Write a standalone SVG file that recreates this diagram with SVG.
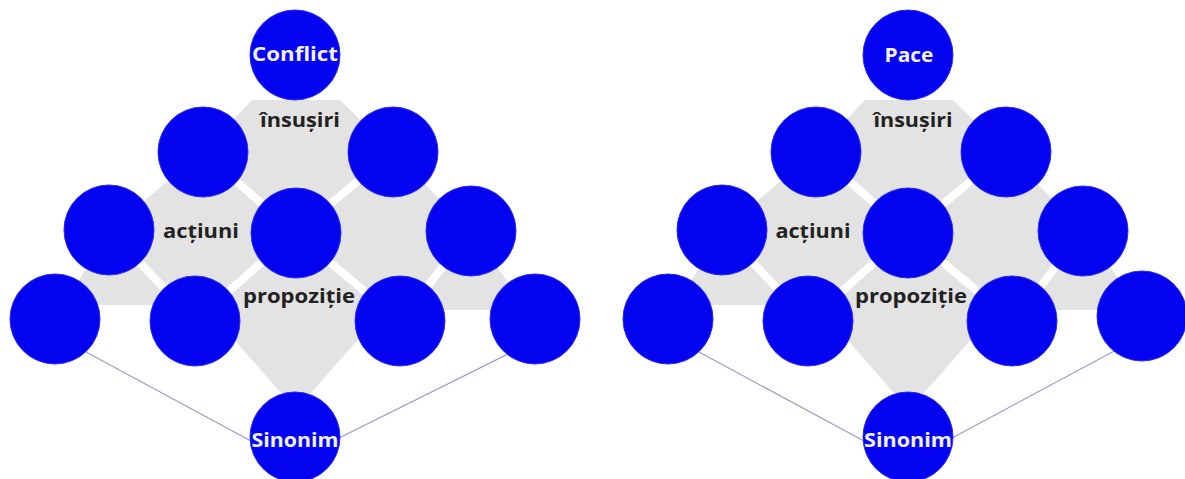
<svg xmlns="http://www.w3.org/2000/svg" width="1185" height="479" viewBox="0 0 1185 479">
<defs>
<style>
.tile{fill:#e3e3e3;stroke:none}
.gap{stroke:#ffffff;stroke-width:8;stroke-linecap:butt}
.node{fill:#0303ef;stroke:#2a2af5;stroke-width:1}
.conn{stroke:#9c9cc6;stroke-width:1.2;fill:none}
.in{font-family:"Open Sans","DejaVu Sans",sans-serif;font-weight:700;font-size:19px;fill:#f2f2ff;text-anchor:middle}
.lbl{font-family:"Open Sans","DejaVu Sans",sans-serif;font-weight:700;font-size:19px;fill:#222222;text-anchor:middle}
</style>
<g id="bgShape">
<polygon class="tile" points="252,100 340,100 393,152 295,233 203,152"/>
<polygon class="tile" points="203,152 109,230 195,321 295,233"/>
<polygon class="tile" points="393,152 295,233 400,321 471,231"/>
<polygon class="tile" points="295,233 195,321 218,321 281,393 311,393 374,321 400,321"/>
<polygon class="tile" points="109,230 64,305 180,305"/>
<polygon class="tile" points="471,231 409,310 528,310"/>
<line class="gap" x1="203" y1="152" x2="295" y2="233"/>
<line class="gap" x1="393" y1="152" x2="295" y2="233"/>
<line class="gap" x1="109" y1="230" x2="195" y2="321"/>
<line class="gap" x1="295" y1="233" x2="195" y2="321"/>
<line class="gap" x1="295" y1="233" x2="400" y2="321"/>
<line class="gap" x1="471" y1="231" x2="400" y2="321"/>
</g>
</defs>
<rect x="0" y="0" width="1185" height="479" fill="#ffffff"/>
<g id="background-left"><use href="#bgShape"/></g>
<g id="background-right"><use href="#bgShape" transform="translate(613,0)"/></g>
<g id="connectors">
<line class="conn" x1="86" y1="352" x2="251" y2="441"/>
<line class="conn" x1="512" y1="352" x2="339" y2="438"/>
<line class="conn" x1="699" y1="352" x2="864" y2="441"/>
<line class="conn" x1="1118" y1="349" x2="952" y2="438"/>
</g>
<g id="left-conflict"><circle class="node" cx="295" cy="55" r="45"/><text class="in" x="295" y="61" textLength="86" lengthAdjust="spacingAndGlyphs">Conflict</text></g>
<g id="left-r2a"><circle class="node" cx="203" cy="152" r="45"/></g>
<g id="left-r2b"><circle class="node" cx="393" cy="152" r="45"/></g>
<g id="left-r3a"><circle class="node" cx="109" cy="230" r="45"/></g>
<g id="left-r3b"><circle class="node" cx="296" cy="233" r="45"/></g>
<g id="left-r3c"><circle class="node" cx="471" cy="231" r="45"/></g>
<g id="left-r4a"><circle class="node" cx="55" cy="319" r="45"/></g>
<g id="left-r4b"><circle class="node" cx="195" cy="321" r="45"/></g>
<g id="left-r4c"><circle class="node" cx="400" cy="321" r="45"/></g>
<g id="left-r4d"><circle class="node" cx="535" cy="319" r="45"/></g>
<g id="left-sinonim"><circle class="node" cx="295" cy="437" r="45"/><text class="in" x="295" y="447" textLength="87" lengthAdjust="spacingAndGlyphs">Sinonim</text></g>
<g id="left-labels">
<text class="lbl" x="300" y="127" textLength="80" lengthAdjust="spacingAndGlyphs">însușiri</text>
<text class="lbl" x="201" y="238" textLength="76" lengthAdjust="spacingAndGlyphs">acțiuni</text>
<text class="lbl" x="299" y="303" textLength="112" lengthAdjust="spacingAndGlyphs">propoziție</text>
</g>
<g id="right-pace"><circle class="node" cx="908" cy="55" r="45"/><text class="in" x="909" y="62" textLength="49" lengthAdjust="spacingAndGlyphs">Pace</text></g>
<g id="right-r2a"><circle class="node" cx="816" cy="152" r="45"/></g>
<g id="right-r2b"><circle class="node" cx="1006" cy="152" r="45"/></g>
<g id="right-r3a"><circle class="node" cx="722" cy="230" r="45"/></g>
<g id="right-r3b"><circle class="node" cx="908" cy="233" r="45"/></g>
<g id="right-r3c"><circle class="node" cx="1083" cy="231" r="45"/></g>
<g id="right-r4a"><circle class="node" cx="668" cy="319" r="45"/></g>
<g id="right-r4b"><circle class="node" cx="808" cy="321" r="45"/></g>
<g id="right-r4c"><circle class="node" cx="1012" cy="321" r="45"/></g>
<g id="right-r4d"><circle class="node" cx="1142" cy="316" r="45"/></g>
<g id="right-sinonim"><circle class="node" cx="908" cy="437" r="45"/><text class="in" x="908" y="447" textLength="88" lengthAdjust="spacingAndGlyphs">Sinonim</text></g>
<g id="right-labels">
<text class="lbl" x="913" y="127" textLength="79" lengthAdjust="spacingAndGlyphs">însușiri</text>
<text class="lbl" x="813" y="238" textLength="75" lengthAdjust="spacingAndGlyphs">acțiuni</text>
<text class="lbl" x="911" y="303" textLength="112" lengthAdjust="spacingAndGlyphs">propoziție</text>
</g>
</svg>
